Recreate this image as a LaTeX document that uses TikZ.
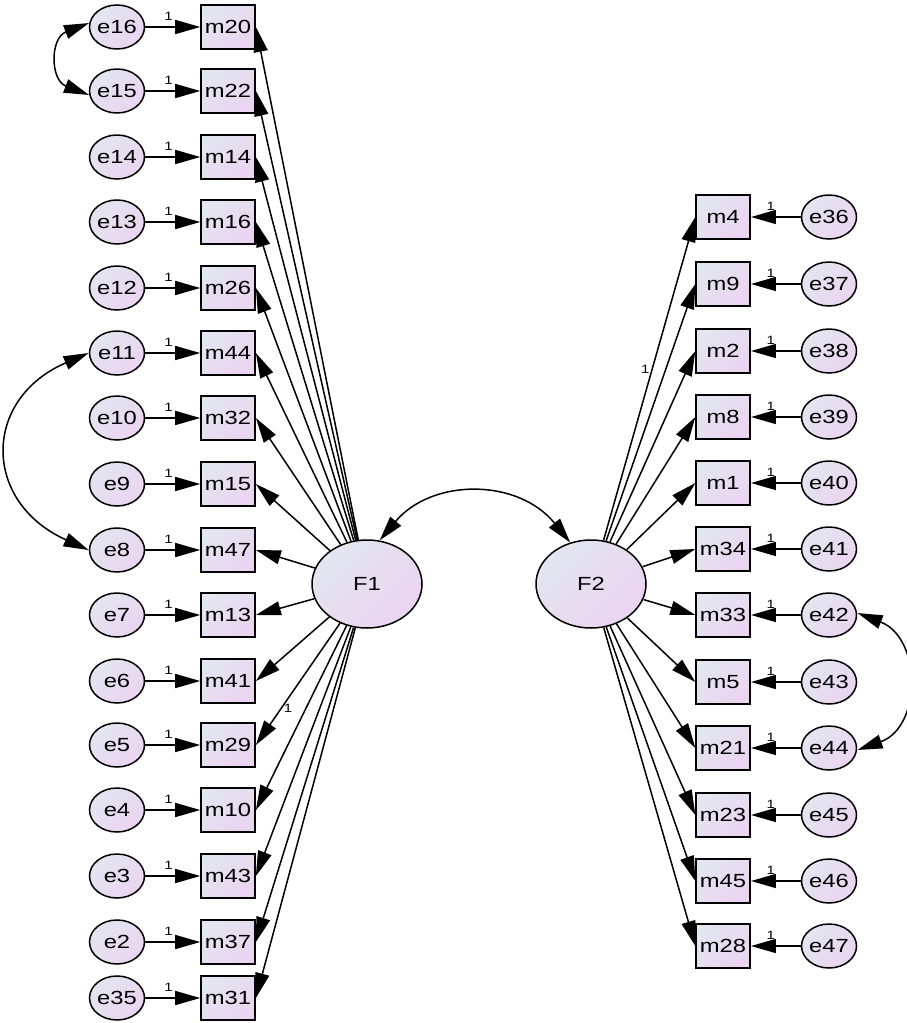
\documentclass[tikz,border=0pt]{standalone}
\usepackage{fontspec}
\setmainfont{Liberation Sans}
\usetikzlibrary{arrows.meta}
\definecolor{boxtop}{RGB}{226,230,240}
\definecolor{boxbot}{RGB}{235,212,240}
\tikzset{
  shaded/.style={draw,line width=1.5pt,top color=boxtop,bottom color=boxbot,shading angle=45,inner sep=0pt,font=\fontsize{19}{19}\selectfont},
  obsv/.style={shaded,rectangle,minimum width=43pt,minimum height=44pt},
  errv/.style={shaded,circle,minimum size=44pt},
  latv/.style={shaded,circle,minimum size=88pt},
  load/.style={line width=1.5pt,-{Stealth[length=25pt,width=14pt,inset=0pt]}},
  cov/.style={line width=1.5pt,{Stealth[length=25pt,width=14pt,inset=0pt]}-{Stealth[length=25pt,width=14pt,inset=0pt]}},
  one/.style={font=\fontsize{12}{12}\selectfont,inner sep=2pt}
}
\begin{document}
\begin{tikzpicture}[x=0.8pt,y=1pt,xscale=1.25,transform shape]
\useasboundingbox (0,0) rectangle (907,-1023);
% latent factors
\node[latv] (F1) at (367,-584) {F1};
\node[latv] (F2) at (591,-584) {F2};
% left block
\foreach \ee/\mm/\yy in {16/20/27,15/22/91,14/14/157,13/16/222,12/26/288,11/44/353,10/32/418,9/15/484,8/47/550,7/13/615,6/41/681,5/29/745,4/10/810,3/43/876,2/37/942,35/31/998}{
  \node[errv] (e\ee) at (117,-\yy) {e\ee};
  \node[obsv] (m\mm) at (228,-\yy) {m\mm};
  \draw[load] (e\ee) -- node[one,pos=.42,above=4pt]{1} (m\mm);
  \draw[load] (F1) -- (m\mm.east);
}
% right block
\foreach \mm/\ee/\yy in {4/36/217,9/37/284,2/38/351,8/39/417,1/40/483,34/41/549,33/42/615,5/43/682,21/44/748,23/45/815,45/46/881,28/47/946}{
  \node[obsv] (m\mm) at (723,-\yy) {m\mm};
  \node[errv] (e\ee) at (829,-\yy) {e\ee};
  \draw[load] (e\ee) -- node[one,pos=.6,above=4pt]{1} (m\mm);
  \draw[load] (F2) -- (m\mm.west);
}
\path (F1) -- node[one,pos=.7,right]{1} (m29.east);
\path (F2) -- node[one,pos=.53,left]{1} (m4.west);
% covariances
\draw[cov] (e16.170) .. controls (50,-38) and (50,-80) .. (e15.190);
\draw[cov] (e11.west) .. controls (-18,-399) and (-18,-502) .. (e8.west);
\draw[cov] (e42.5) .. controls (922,-638) and (922,-727) .. (e44.-5);
\draw[cov] (F1.77) .. controls (432,-478) and (518,-478) .. (F2.112);
\end{tikzpicture}
\end{document}
